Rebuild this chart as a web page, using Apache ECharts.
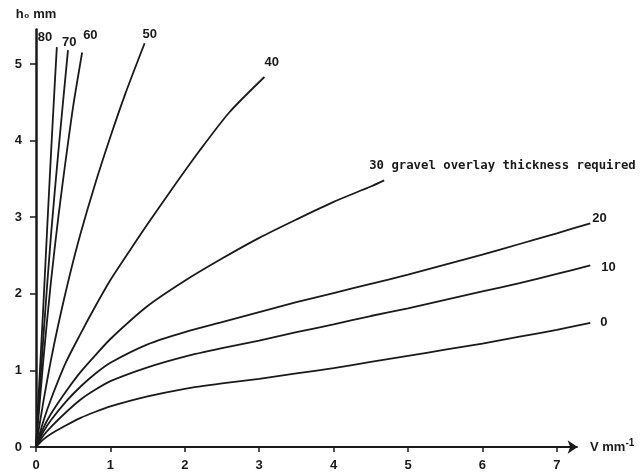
<!DOCTYPE html>
<html><head><meta charset="utf-8">
<script src="https://cdn.jsdelivr.net/npm/echarts@6/dist/echarts.min.js"></script>
<style>html,body{margin:0;padding:0;background:#fff}#c{width:640px;height:476px}</style>
</head><body><div id="c"></div>
<script>
// tick labels
const xTicks = [0, 1, 2, 3, 4, 5, 6, 7];
const yTicks = [0, 1, 2, 3, 4, 5];
// x axis arrow end (V)
const xAxisEnd = 7.28;
// curve labels (gravel overlay thickness required, mm)
const curveNames = ['0', '10', '20', '30 gravel overlay thickness required', '40', '50', '60', '70', '80'];
// curve values: V (x) and h0 (y)
const t0x  = [0, 0.1, 0.2, 0.4, 0.6, 0.8, 1, 1.5, 2, 2.5, 3, 3.5, 4, 4.5, 5, 5.5, 6, 6.5, 7, 7.45];
const t0y  = [0, 0.1, 0.17, 0.28, 0.38, 0.46, 0.53, 0.66, 0.76, 0.83, 0.89, 0.96, 1.03, 1.11, 1.19, 1.27, 1.35, 1.44, 1.53, 1.62];
const t10x = [0, 0.1, 0.2, 0.4, 0.6, 0.8, 1, 1.5, 2, 2.5, 3, 3.5, 4, 4.5, 5, 5.5, 6, 6.5, 7, 7.45];
const t10y = [0, 0.15, 0.26, 0.45, 0.62, 0.75, 0.86, 1.04, 1.18, 1.29, 1.39, 1.5, 1.6, 1.71, 1.81, 1.92, 2.03, 2.14, 2.26, 2.37];
const t20x = [0, 0.1, 0.2, 0.4, 0.6, 0.8, 1, 1.5, 2, 2.5, 3, 3.5, 4, 4.5, 5, 5.5, 6, 6.5, 7, 7.45];
const t20y = [0, 0.2, 0.35, 0.59, 0.79, 0.96, 1.1, 1.34, 1.5, 1.63, 1.76, 1.89, 2.01, 2.13, 2.25, 2.38, 2.51, 2.65, 2.79, 2.92];
const t30x = [0, 0.1, 0.2, 0.4, 0.6, 0.8, 1, 1.5, 2, 2.5, 3, 3.5, 4, 4.5, 4.68];
const t30y = [0, 0.25, 0.43, 0.72, 0.98, 1.2, 1.41, 1.84, 2.17, 2.46, 2.73, 2.97, 3.2, 3.4, 3.48];
const t40x = [0, 0.1, 0.2, 0.4, 0.6, 0.8, 1, 1.25, 1.5, 1.8, 2.2, 2.6, 3.07];
const t40y = [0, 0.34, 0.62, 1.1, 1.48, 1.84, 2.18, 2.55, 2.91, 3.33, 3.87, 4.37, 4.83];
const t50x = [0, 0.1, 0.2, 0.3, 0.45, 0.6, 0.8, 1, 1.2, 1.46];
const t50y = [0, 0.6, 1.13, 1.6, 2.23, 2.79, 3.45, 4.05, 4.61, 5.27];
const t60x = [0, 0.1, 0.2, 0.3, 0.4, 0.5, 0.62];
const t60y = [0, 1.15, 2.15, 3.0, 3.75, 4.45, 5.15];
const t70x = [0, 0.1, 0.2, 0.3, 0.43];
const t70y = [0, 1.45, 2.75, 3.85, 5.18];
const t80x = [0, 0.05, 0.1, 0.15, 0.2, 0.25, 0.28];
const t80y = [0, 0.95, 1.87, 2.85, 3.8, 4.7, 5.22];

const curvesX = [t0x, t10x, t20x, t30x, t40x, t50x, t60x, t70x, t80x];
const curvesY = [t0y, t10y, t20y, t30y, t40y, t50y, t60y, t70y, t80y];
// label offsets (style)
const labelOffsets = [[10, 0], [11, 2], [2, -5], [-15, -15], [0, -15], [-2, -9], [1, -17], [-6, -8], [-19, -10]];

const INK = '#1a1a1a';
const numFont = "'Liberation Sans Narrow', 'Liberation Sans', 'DejaVu Sans', sans-serif";
const monoFont = "'DejaVu Sans Mono', 'Liberation Mono', monospace";

const series = curvesX.map((xs, i) => ({
  type: 'line',
  name: curveNames[i],
  data: xs.map((x, j) => [x, curvesY[i][j]]),
  showSymbol: false,
  smooth: 0.25,
  clip: false,
  silent: true,
  lineStyle: { color: INK, width: 1.8 },
  endLabel: {
    show: true,
    formatter: curveNames[i],
    distance: 0,
    align: 'left',
    verticalAlign: 'middle',
    offset: labelOffsets[i],
    color: INK,
    fontFamily: i === 3 ? monoFont : numFont,
    fontWeight: 'bold',
    fontSize: i === 3 ? 12.3 : 13
  }
}));
// x axis line with arrow, drawn through the axis scales
series[0].markLine = {
  silent: true,
  symbol: ['none', 'arrow'],
  symbolSize: 10,
  label: { show: false },
  lineStyle: { color: INK, width: 2.2, type: 'solid' },
  data: [[{ coord: [0, 0] }, { coord: [xAxisEnd, 0] }]]
};

const chart = echarts.init(document.getElementById('c'), null, { renderer: 'canvas' });
chart.setOption({
  animation: false,
  backgroundColor: '#ffffff',
  grid: { left: 36, right: 46, top: 29.5, bottom: 29 },
  xAxis: {
    type: 'value',
    min: 0,
    max: 7.5,
    interval: 1,
    splitLine: { show: false },
    name: 'V mm{sup|-1}',
    nameLocation: 'end',
    nameGap: -4,
    nameTextStyle: {
      color: INK, fontFamily: numFont, fontWeight: 'bold', fontSize: 13,
      verticalAlign: 'middle', align: 'left',
      rich: { sup: { fontSize: 10, fontWeight: 'bold', fontFamily: numFont, color: INK, verticalAlign: 'top', padding: [0, 0, 8, 0] } }
    },
    axisLine: { show: false },
    axisTick: { show: true, length: 5, customValues: xTicks, lineStyle: { color: INK, width: 1.5 } },
    axisLabel: { customValues: xTicks, margin: 12, color: INK, fontFamily: numFont, fontWeight: 'bold', fontSize: 13 }
  },
  yAxis: {
    type: 'value',
    min: 0,
    max: 5.45,
    interval: 1,
    splitLine: { show: false },
    name: 'h₀ mm',
    nameLocation: 'end',
    nameGap: 9,
    nameTextStyle: { color: INK, fontFamily: numFont, fontWeight: 'bold', fontSize: 13 },
    axisLine: { show: true, lineStyle: { color: INK, width: 2.5 } },
    axisTick: { show: true, length: 6, customValues: yTicks, lineStyle: { color: INK, width: 1.5 } },
    axisLabel: { customValues: yTicks, margin: 14, color: INK, fontFamily: numFont, fontWeight: 'bold', fontSize: 13 }
  },
  series: series
});
</script>
</body></html>
